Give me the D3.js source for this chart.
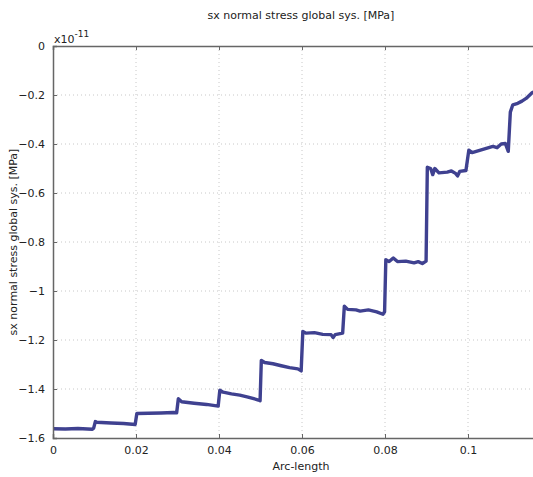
<!DOCTYPE html>
<html>
<head>
<meta charset="utf-8">
<script src="https://cdn.jsdelivr.net/npm/d3@7"></script>
<style>
  body { margin: 0; background: #fff; }
  svg { display: block; font-family: "DejaVu Sans", Verdana, sans-serif; }
</style>
</head>
<body>
<div id="chart"></div>
<script>
// data (stress in units of 1e-11 MPa)
var arcLength = [
  0, 0.003, 0.006, 0.0095, 0.0098,
  0.0102, 0.0105, 0.014, 0.017, 0.0198,
  0.0202, 0.023, 0.026, 0.029, 0.0298,
  0.0302, 0.031, 0.034, 0.037, 0.0398,
  0.0402, 0.041, 0.043, 0.045, 0.047, 0.0495, 0.0499,
  0.0502, 0.051, 0.053, 0.055, 0.057, 0.059, 0.0598,
  0.0602, 0.061, 0.063, 0.065, 0.067, 0.0675, 0.068, 0.0698,
  0.0702, 0.071, 0.073, 0.074, 0.076, 0.078, 0.0795, 0.0799,
  0.0802, 0.081, 0.082, 0.083, 0.085, 0.087, 0.088, 0.089, 0.0899,
  0.0902, 0.091, 0.0915, 0.092, 0.093, 0.095, 0.096, 0.097, 0.0975, 0.098, 0.0995,
  0.1002, 0.101, 0.102, 0.103, 0.104, 0.105, 0.106, 0.107, 0.108, 0.109, 0.1097,
  0.1102, 0.1108, 0.112, 0.113, 0.114, 0.1155, 0.117
];
var stress = [
  -1.562, -1.563, -1.561, -1.564, -1.560,
  -1.533, -1.536, -1.539, -1.541, -1.545,
  -1.500, -1.499, -1.498, -1.496, -1.497,
  -1.440, -1.452, -1.458, -1.463, -1.470,
  -1.405, -1.413, -1.420, -1.425, -1.433, -1.445, -1.448,
  -1.283, -1.292, -1.297, -1.305, -1.313, -1.318, -1.326,
  -1.165, -1.172, -1.170, -1.177, -1.178, -1.190, -1.178, -1.172,
  -1.062, -1.075, -1.077, -1.082, -1.077, -1.085, -1.095, -1.085,
  -0.872, -0.880, -0.865, -0.880, -0.878, -0.885, -0.880, -0.888, -0.878,
  -0.495, -0.500, -0.525, -0.500, -0.518, -0.515, -0.510, -0.520, -0.530, -0.512, -0.508,
  -0.425, -0.435, -0.430, -0.425, -0.420, -0.415, -0.410, -0.415, -0.400, -0.398, -0.430,
  -0.270, -0.240, -0.234, -0.225, -0.214, -0.190, -0.180
];
var xTicks = [0, 0.02, 0.04, 0.06, 0.08, 0.1];
var yTicks = [0, -0.2, -0.4, -0.6, -0.8, -1, -1.2, -1.4, -1.6];

var chartTitle = "sx normal stress global sys. [MPa]";
var xTitle = "Arc-length";
var yTitle = "sx normal stress global sys. [MPa]";

var W = 533, H = 477;
// plot area (the original plot runs past the right edge of the picture)
var margin = {top: 46, left: 53, bottom: 39};
var plotRight = 551;

var svg = d3.select("#chart")
  .append("svg")
  .attr("width", W)
  .attr("height", H);

var x = d3.scaleLinear()
  .domain([0, 0.12])
  .range([margin.left, plotRight]);

var y = d3.scaleLinear()
  .domain([-1.6, 0])
  .range([H - margin.bottom, margin.top]);

// grid lines
var grid = svg.append("g").attr("class", "grid");
grid.selectAll("line.gx")
  .data(xTicks.slice(1))
  .enter().append("line")
  .attr("class", "gx")
  .attr("x1", function(d) { return x(d); })
  .attr("x2", function(d) { return x(d); })
  .attr("y1", y(0))
  .attr("y2", y(-1.6))
  .attr("stroke", "#c8c8c8")
  .attr("stroke-dasharray", "1,3");
grid.selectAll("line.gy")
  .data(yTicks.slice(1, -1))
  .enter().append("line")
  .attr("class", "gy")
  .attr("x1", x(0))
  .attr("x2", plotRight)
  .attr("y1", function(d) { return y(d); })
  .attr("y2", function(d) { return y(d); })
  .attr("stroke", "#c8c8c8")
  .attr("stroke-dasharray", "1,3");

// the data line
var line = d3.line()
  .x(function(d) { return x(d[0]); })
  .y(function(d) { return y(d[1]); });

svg.append("path")
  .datum(d3.zip(arcLength, stress))
  .attr("d", line)
  .attr("fill", "none")
  .attr("stroke", "#3f4190")
  .attr("stroke-width", 3.4)
  .attr("stroke-linejoin", "round");

// axes: ticks point inward
var xAxisBottom = d3.axisBottom(x)
  .tickValues(xTicks)
  .tickSize(-4)
  .tickPadding(8)
  .tickFormat(function(d) { return d3.format("")(d); });
var xAxisTop = d3.axisTop(x)
  .tickValues(xTicks)
  .tickSize(-4)
  .tickFormat("");
var yAxis = d3.axisLeft(y)
  .tickValues(yTicks)
  .tickSize(-4)
  .tickPadding(8)
  .tickFormat(function(d) { return d3.format("")(d); });

function styleAxis(g) {
  g.select(".domain").attr("stroke", "#666").attr("stroke-width", 1.5);
  g.selectAll(".tick line").attr("stroke", "#666");
  g.selectAll(".tick text")
    .attr("fill", "#222")
    .style("font-size", "11px")
    .style("font-family", "DejaVu Sans, Verdana, sans-serif");
}

svg.append("g")
  .attr("transform", "translate(0," + y(-1.6) + ")")
  .call(xAxisBottom)
  .call(styleAxis);
svg.append("g")
  .attr("transform", "translate(0," + y(0) + ")")
  .call(xAxisTop)
  .call(styleAxis);
svg.append("g")
  .attr("transform", "translate(" + x(0) + ",0)")
  .call(yAxis)
  .call(styleAxis);

// exponent label
var expo = svg.append("text")
  .attr("x", x(0) + 1)
  .attr("y", y(0) - 3)
  .attr("fill", "#222")
  .style("font-size", "11px");
expo.append("tspan").text("x10");
expo.append("tspan").attr("dy", -6).style("font-size", "9px").text("-11");

// titles
svg.append("text")
  .attr("x", 301)
  .attr("y", 19)
  .attr("text-anchor", "middle")
  .attr("fill", "#222")
  .style("font-size", "11px")
  .text(chartTitle);

svg.append("text")
  .attr("x", 301)
  .attr("y", 470)
  .attr("text-anchor", "middle")
  .attr("fill", "#222")
  .style("font-size", "11px")
  .text(xTitle);

svg.append("text")
  .attr("transform", "translate(17," + y(-0.8) + ") rotate(-90)")
  .attr("text-anchor", "middle")
  .attr("fill", "#222")
  .style("font-size", "11px")
  .text(yTitle);
</script>
</body>
</html>
